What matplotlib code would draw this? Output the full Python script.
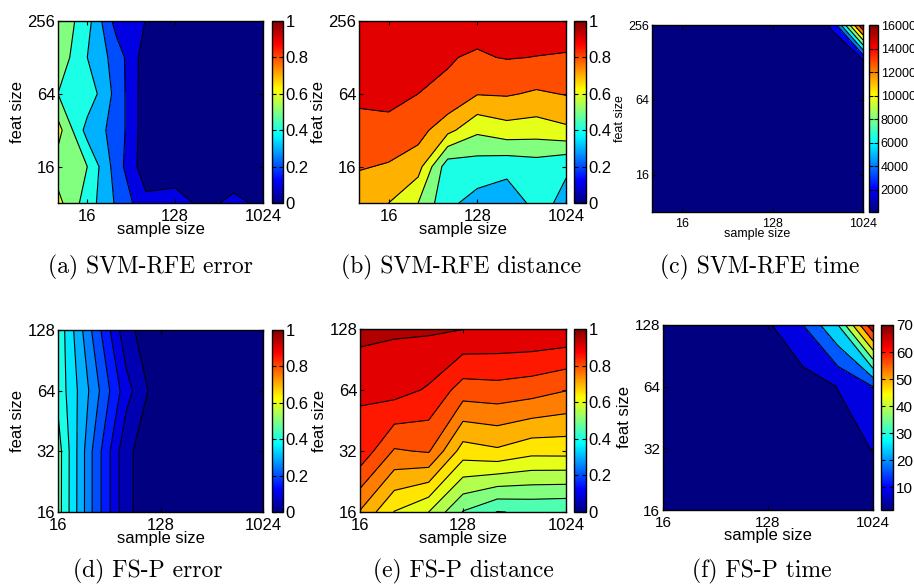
import numpy as np
import matplotlib
matplotlib.use("Agg")
import matplotlib.pyplot as plt
from matplotlib.colors import LinearSegmentedColormap, Normalize
from matplotlib.cm import ScalarMappable

# sizes on the axes (log2 spaced grids)
svm_samples = [8, 16, 32, 64, 128, 256, 512, 1024]
svm_feats = [8, 16, 32, 64, 128, 256]
fsp_samples = [16, 32, 64, 128, 256, 512, 1024]
fsp_feats = [16, 32, 64, 128]

# rows = feat size (small -> large), cols = sample size
svm_error = [
    [0.63, 0.452, 0.285, 0.13, 0.15, 0.067, 0.13, 0.073],
    [0.55, 0.50, 0.25, 0.035, 0.03, 0.02, 0.02, 0.02],
    [0.64, 0.36, 0.265, 0.04, 0.03, 0.02, 0.02, 0.02],
    [0.499, 0.47, 0.265, 0.04, 0.03, 0.02, 0.02, 0.02],
    [0.567, 0.40, 0.257, 0.046, 0.03, 0.02, 0.02, 0.02],
    [0.58, 0.44, 0.155, 0.098, 0.05, 0.04, 0.04, 0.03],
]
svm_distance = [
    [0.72, 0.70, 0.60, 0.42, 0.367, 0.342, 0.429, 0.379],
    [0.81, 0.789, 0.74, 0.44, 0.45, 0.43, 0.45, 0.41],
    [0.87, 0.88, 0.84, 0.73, 0.62, 0.66, 0.649, 0.68],
    [0.92, 0.92, 0.90, 0.889, 0.805, 0.81, 0.787, 0.805],
    [0.94, 0.94, 0.93, 0.905, 0.891, 0.905, 0.898, 0.892],
    [0.95, 0.95, 0.95, 0.95, 0.93, 0.95, 0.95, 0.95],
]
svm_time = [
    [105, 110, 115, 125, 140, 170, 230, 330],
    [110, 115, 120, 130, 150, 190, 270, 400],
    [115, 120, 130, 145, 170, 220, 330, 520],
    [120, 125, 140, 160, 200, 280, 430, 700],
    [125, 135, 150, 180, 240, 350, 560, 950],
    [135, 145, 170, 210, 300, 500, 2300, 16000],
]
fsp_error = [
    [0.472, 0.25, 0.06, 0.01, 0.01, 0.005, 0.005],
    [0.473, 0.25, 0.06, 0.01, 0.01, 0.005, 0.005],
    [0.435, 0.285, 0.12, 0.01, 0.01, 0.005, 0.005],
    [0.437, 0.247, 0.063, 0.01, 0.01, 0.005, 0.005],
]
fsp_distance = [
    [0.746, 0.648, 0.60, 0.497, 0.448, 0.456, 0.452],
    [0.886, 0.795, 0.805, 0.677, 0.692, 0.667, 0.668],
    [0.905, 0.92, 0.894, 0.827, 0.832, 0.822, 0.802],
    [0.969, 0.956, 0.957, 0.951, 0.946, 0.946, 0.942],
]
fsp_time = [
    [1.5, 1.7, 2.0, 2.3, 2.7, 3.0, 3.0],
    [1.8, 2.0, 2.5, 3.0, 3.5, 5.0, 8.3],
    [2.0, 2.4, 3.0, 3.6, 4.2, 8.2, 16],
    [2.2, 2.8, 4.0, 7.0, 16, 32, 70],
]

captions = ["(a) SVM-RFE error", "(b) SVM-RFE distance", "(c) SVM-RFE time",
            "(d) FS-P error", "(e) FS-P distance", "(f) FS-P time"]
caption_x = [150, 461, 760, 148, 463, 762]

# matlab style jet
mjet = LinearSegmentedColormap.from_list(
    "mjet", [(0, (0, 0, 0.5)), (0.125, (0, 0, 1)), (0.375, (0, 1, 1)),
             (0.625, (1, 1, 0)), (0.875, (1, 0, 0)), (1, (0.5, 0, 0))], N=256)

plt.rcParams['font.family'] = ['Liberation Sans', 'DejaVu Sans']

W, H = 914, 587
fig = plt.figure(figsize=(W / 100, H / 100), dpi=100)


def box(l, r, t, b):
    return [l / W, 1 - b / H, (r - l) / W, (b - t) / H]


unit_ticks = [0, 0.2, 0.4, 0.6, 0.8, 1]
unit_labels = ["0", "0.2", "0.4", "0.6", "0.8", "1"]

panels = [
    # data, xs, ys, levels, vmin, vmax, ax box, cbar box, cticks, ctlabels, font size
    (svm_error, svm_samples, svm_feats, np.arange(0, 0.75, 0.1), 0, 1,
     (58, 263, 21, 203), (272, 283, 21, 203), unit_ticks, unit_labels, 12),
    (svm_distance, svm_samples, svm_feats, np.arange(0.3, 1.05, 0.1), 0, 1,
     (359, 566, 21, 203), (574, 586, 21, 203), unit_ticks, unit_labels, 12),
    (svm_time, svm_samples, svm_feats,
     [100, 2000, 4000, 6000, 8000, 10000, 12000, 14000, 16001], 105, 16000,
     (652, 863, 25, 212), (869, 878, 25, 212),
     [2000, 4000, 6000, 8000, 10000, 12000, 14000, 16000],
     ["2000", "4000", "6000", "8000", "10000", "12000", "14000", "16000"], 9),
    (fsp_error, fsp_samples, fsp_feats, np.arange(0, 0.55, 0.05), 0, 1,
     (58, 263, 330, 512), (272, 283, 330, 512), unit_ticks, unit_labels, 12),
    (fsp_distance, fsp_samples, fsp_feats, np.arange(0.4, 1.025, 0.05), 0, 1,
     (360, 566, 329, 512), (574, 586, 329, 512), unit_ticks, unit_labels, 12),
    (fsp_time, fsp_samples, fsp_feats, [1, 8, 16, 24, 32, 40, 48, 56, 64, 72], 1.5, 70,
     (663, 873, 325, 510), (881, 893, 325, 510), [10, 20, 30, 40, 50, 60, 70],
     ["10", "20", "30", "40", "50", "60", "70"], 11),
]

for i, (Z, xs, ys, levels, vmin, vmax, abox, cbox, cticks, ctl, fs) in enumerate(panels):
    ax = fig.add_axes(box(*abox))
    X, Y = np.meshgrid(np.log2(xs), np.log2(ys))
    Z = np.array(Z, dtype=float)
    norm = Normalize(vmin=vmin, vmax=vmax)
    levels = np.array(levels, dtype=float)
    cols = [mjet(norm(l)) for l in levels[:-1]]
    ax.contourf(X, Y, Z, levels=levels, colors=cols)
    ax.contour(X, Y, Z, levels=levels[1:-1], colors='k', linewidths=0.8)

    if len(ys) == 6:
        yt = [16, 64, 256]
    else:
        yt = [16, 32, 64, 128]
    xt = [16, 128, 1024]
    ax.set_xticks(np.log2(xt))
    ax.set_xticklabels([str(v) for v in xt], fontsize=fs)
    ax.set_yticks(np.log2(yt))
    ax.set_yticklabels([str(v) for v in yt], fontsize=fs)
    ax.set_xlim(np.log2(xs[0]), np.log2(xs[-1]))
    ax.set_ylim(np.log2(ys[0]), np.log2(ys[-1]))
    lab_fs = 9 if i == 2 else 12
    ax.set_xlabel("sample size", fontsize=lab_fs, labelpad=-1)
    ax.set_ylabel("feat size", fontsize=lab_fs, labelpad=2)
    ax.tick_params(direction='in', length=3, top=True, right=True)
    ax.tick_params(axis='x', pad=4)
    ax.tick_params(axis='y', pad=2)
    for s in ax.spines.values():
        s.set_linewidth(1.0)

    cax = fig.add_axes(box(*cbox))
    sm = ScalarMappable(norm=norm, cmap=mjet)
    cb = fig.colorbar(sm, cax=cax, ticks=cticks)
    cb.ax.set_yticklabels(ctl, fontsize=fs)
    cb.ax.tick_params(direction='in', length=3, left=True, right=True, pad=2)
    cb.outline.set_linewidth(1.0)

    cy = 267 if i < 3 else 571
    fig.text(caption_x[i] / W, 1 - cy / H, captions[i], ha='center', va='center',
             fontsize=17, family='cmr10')

fig.savefig("out.png", dpi=100)
